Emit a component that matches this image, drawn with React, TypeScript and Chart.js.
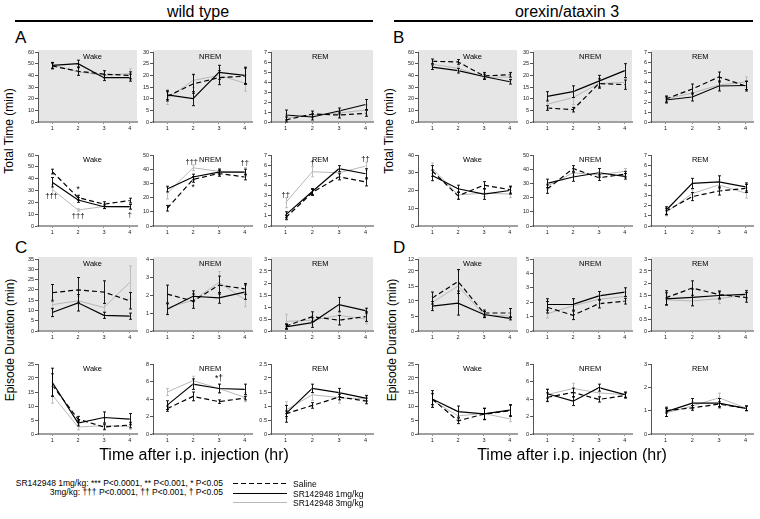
import React, { useEffect, useRef } from 'react';
import { Chart, registerables } from 'chart.js';

Chart.register(...registerables);

const FONT = '"Liberation Sans", Arial, sans-serif';

// ---------------- data ----------------
const HOURS = [1, 2, 3, 4];
const STATES = ['Wake', 'NREM', 'REM'];
const SERIES = ['Saline', 'SR142948 1mg/kg', 'SR142948 3mg/kg'];
const SERIES_COLORS = ['#000000', '#000000', '#b8b8b8'];

// rows of each array: [Saline, SR142948 1mg/kg, SR142948 3mg/kg]
// A: wild type, total time (min)
const A1_WAKE = [[48, 43.5, 41, 40], [48.5, 50, 38, 38], [49, 43, 40, 41.5]];
const A1_WAKE_SEM = [[2.5, 3.5, 3, 3], [2.5, 3, 2.5, 3], [2.5, 3, 3, 4]];
const A1_NREM = [[11, 16.3, 19, 19.6], [11.6, 10, 21.3, 20], [10, 17.8, 20, 16.7]];
const A1_NREM_SEM = [[2, 4, 3, 3.5], [2, 3, 3, 3.5], [2.5, 3, 3, 3.5]];
const A1_REM = [[0.2, 0.8, 0.7, 0.87], [0.7, 0.5, 1.1, 1.75], [0.4, 0.7, 0.9, 1.2]];
const A1_REM_SEM = [[0.3, 0.3, 0.3, 0.3], [0.5, 0.3, 0.3, 0.5], [0.4, 0.3, 0.3, 0.5]];

const A2_WAKE = [[46, 24, 18.5, 21.5], [37, 22, 16.3, 16.3], [31, 13.5, 16.5, 16]];
const A2_WAKE_SEM = [[2, 2, 2, 2], [4, 2, 1.5, 2], [4, 1, 2, 2]];
const A2_NREM = [[12.5, 32.8, 37, 34.5], [26, 34.5, 38, 38], [23, 41, 38.5, 38]];
const A2_NREM_SEM = [[2, 2, 2, 2], [2, 2, 2, 2], [4, 2, 2, 3]];
const A2_REM = [[0.82, 3.3, 4.85, 4.35], [1.1, 3.4, 5.65, 5.15], [2.3, 5.35, 5.25, 5.9]];
const A2_REM_SEM = [[0.2, 0.3, 0.3, 0.4], [0.3, 0.3, 0.3, 0.5], [0.5, 0.5, 0.4, 0.4]];

// B: orexin/ataxin 3, total time (min)
const B1_WAKE = [[52, 51.5, 39.5, 40.5], [47, 44, 39, 34.5], [49.5, 46, 38.5, 38.5]];
const B1_WAKE_SEM = [[2, 2, 3, 2], [2, 2, 2, 2], [2, 2, 2, 3]];
const B1_NREM = [[6, 5.3, 16.5, 16], [11, 13, 17.5, 22], [7.6, 10.5, 16.5, 17]];
const B1_NREM_SEM = [[1, 1, 2, 2], [2, 2.5, 2.5, 3], [2, 3, 2, 2]];
const B1_REM = [[2.3, 3.3, 4.5, 3.6], [2.2, 2.5, 3.6, 3.65], [2.3, 2.9, 3.7, 4.0]];
const B1_REM_SEM = [[0.3, 0.5, 0.5, 0.5], [0.3, 0.4, 0.5, 0.4], [0.3, 0.5, 0.4, 0.5]];

const B2_WAKE = [[31, 17, 23, 20.5], [28.5, 21, 18, 20], [32.5, 17.5, 18.5, 18]];
const B2_WAKE_SEM = [[3, 2, 2, 2], [3, 2, 3, 2], [3, 2, 2, 2]];
const B2_NREM = [[26, 40.5, 34, 36.5], [30, 34.5, 37.5, 35], [28, 37.5, 36, 38.5]];
const B2_NREM_SEM = [[3, 2, 2, 2], [3, 3, 3, 2], [2, 2, 2, 2]];
const B2_REM = [[1.45, 2.9, 3.45, 3.7], [1.5, 4.2, 4.35, 3.85], [1.3, 3.2, 4.05, 3.25]];
const B2_REM_SEM = [[0.3, 0.4, 0.4, 0.4], [0.4, 0.5, 0.6, 0.4], [0.3, 0.4, 0.5, 0.5]];

// C: wild type, episode duration (min)
const C1_WAKE = [[18.6, 20, 18.9, 14.7], [9, 13.7, 7.6, 7.2], [12.8, 14.7, 11.4, 23.6]];
const C1_WAKE_SEM = [[4, 6, 5.5, 4], [2, 4, 1.5, 1.5], [2.5, 2, 2, 8]];
const C1_NREM = [[2.05, 1.66, 2.55, 2.34], [1.21, 1.93, 1.84, 2.16], [1.3, 1.7, 2.7, 1.75]];
const C1_NREM_SEM = [[0.5, 0.4, 0.5, 0.3], [0.3, 0.3, 0.3, 0.4], [0.3, 0.3, 0.6, 0.4]];
const C1_REM = [[0.2, 0.6, 0.45, 0.6], [0.17, 0.35, 1.1, 0.85], [0.4, 0.45, 0.65, 0.5]];
const C1_REM_SEM = [[0.1, 0.2, 0.2, 0.2], [0.1, 0.2, 0.3, 0.1], [0.3, 0.2, 0.2, 0.2]];

const C2_WAKE = [[17.5, 5.3, 2.5, 3.2], [18.5, 3.9, 5.9, 5.3], [14, 2.5, 3, 2.7]];
const C2_WAKE_SEM = [[4, 1, 1, 1], [5, 1, 2, 2], [3, 1, 1, 1]];
const C2_NREM = [[2.9, 4.3, 3.7, 4.1], [3.3, 5.7, 5.2, 5.1], [4.8, 6.1, 5.2, 4.2]];
const C2_NREM_SEM = [[0.3, 0.5, 0.2, 0.2], [0.5, 0.6, 0.5, 0.6], [0.4, 0.5, 0.5, 0.5]];
const C2_REM = [[0.72, 1.02, 1.32, 1.18], [0.72, 1.63, 1.48, 1.28], [0.85, 1.4, 1.3, 1.25]];
const C2_REM_SEM = [[0.1, 0.1, 0.1, 0.1], [0.3, 0.15, 0.15, 0.1], [0.3, 0.2, 0.2, 0.1]];

// D: orexin/ataxin 3, episode duration (min)
const D1_WAKE = [[11, 16.5, 6, 6], [8.3, 9.3, 5.5, 4.2], [9.5, 15, 5.3, 5]];
const D1_WAKE_SEM = [[2, 4, 1, 1.5], [1.5, 4, 1, 0.5], [2, 5, 1, 1]];
const D1_NREM = [[1.65, 1.09, 1.9, 2.07], [1.84, 1.85, 2.44, 2.7], [1.2, 1.75, 2.2, 2.4]];
const D1_NREM_SEM = [[0.4, 0.3, 0.3, 0.2], [0.4, 0.4, 0.3, 0.3], [0.3, 0.4, 0.3, 0.3]];
const D1_REM = [[1.38, 1.79, 1.52, 1.4], [1.34, 1.4, 1.48, 1.53], [1.3, 1.25, 1.35, 1.5]];
const D1_REM_SEM = [[0.3, 0.3, 0.15, 0.2], [0.25, 0.35, 0.15, 0.15], [0.2, 0.2, 0.2, 0.2]];

const D2_WAKE = [[12.5, 4.7, 7.1, 8.3], [12.5, 8, 7.2, 8.5], [12, 6.5, 7.3, 5.4]];
const D2_WAKE_SEM = [[2, 1, 2, 2], [3, 2, 2, 2], [2, 2, 2, 1]];
const D2_NREM = [[4.2, 4.75, 3.95, 4.4], [4.6, 3.75, 5.3, 4.5], [4.5, 5.2, 4.7, 4.5]];
const D2_NREM_SEM = [[0.5, 0.5, 0.3, 0.3], [0.5, 0.5, 0.4, 0.3], [0.7, 0.6, 0.5, 0.3]];
const D2_REM = [[1.0, 1.12, 1.28, 1.1], [0.95, 1.32, 1.32, 1.1], [0.9, 1.2, 1.55, 1.12]];
const D2_REM_SEM = [[0.1, 0.1, 0.1, 0.1], [0.2, 0.2, 0.2, 0.1], [0.15, 0.2, 0.2, 0.1]];

// y tick values
const Y_60 = [0, 10, 20, 30, 40, 50, 60];
const Y_50 = [0, 10, 20, 30, 40, 50];
const Y_40 = [0, 10, 20, 30, 40];
const Y_35 = [0, 5, 10, 15, 20, 25, 30, 35];
const Y_30 = [0, 5, 10, 15, 20, 25, 30];
const Y_25 = [0, 5, 10, 15, 20, 25];
const Y_24 = [0, 5, 10, 15, 20, 24];
const Y_24_TEXT = ['0', '5', '10', '15', '20', '12'];
const Y_8 = [0, 2, 4, 6, 8];
const Y_7 = [0, 1, 2, 3, 4, 5, 6, 7];
const Y_5 = [0, 1, 2, 3, 4, 5];
const Y_4 = [0, 1, 2, 3, 4];
const Y_3 = [0, 1, 2, 3];
const Y_3H = [0, 0.5, 1, 1.5, 2, 2.5, 3];
const Y_25H = [0, 0.5, 1, 1.5, 2, 2.5];

// significance marks
const A2_WAKE_NOTES = [
  { x: 0.97, y: 25, t: '†††' },
  { x: 2, y: 30.5, t: '*' },
  { x: 2, y: 8.5, t: '†††' },
  { x: 4, y: 9, t: '†' },
];
const A2_NREM_NOTES = [
  { x: 1.95, y: 45, t: '†††' },
  { x: 2, y: 27, t: '*' },
  { x: 4, y: 44.5, t: '††' },
];
const A2_REM_NOTES = [
  { x: 1, y: 3.1, t: '††' },
  { x: 2, y: 6.2, t: '†' },
  { x: 4, y: 6.6, t: '††' },
];
const C2_NREM_NOTES = [{ x: 3, y: 6.3, t: '*†' }];

// ---------------- layout ----------------
type Note = { x: number; y: number; t: string };
type PanelSpec = {
  g: number; r: number; c: number;
  mean: number[][]; sem: number[][];
  ticks: number[]; tickText?: string[];
  bg: boolean; notes?: Note[];
};

const PANELS: PanelSpec[] = [
  { g: 0, r: 0, c: 0, mean: A1_WAKE, sem: A1_WAKE_SEM, ticks: Y_60, bg: true },
  { g: 0, r: 0, c: 1, mean: A1_NREM, sem: A1_NREM_SEM, ticks: Y_30, bg: true },
  { g: 0, r: 0, c: 2, mean: A1_REM, sem: A1_REM_SEM, ticks: Y_7, bg: true },
  { g: 0, r: 1, c: 0, mean: A2_WAKE, sem: A2_WAKE_SEM, ticks: Y_60, bg: false, notes: A2_WAKE_NOTES },
  { g: 0, r: 1, c: 1, mean: A2_NREM, sem: A2_NREM_SEM, ticks: Y_50, bg: false, notes: A2_NREM_NOTES },
  { g: 0, r: 1, c: 2, mean: A2_REM, sem: A2_REM_SEM, ticks: Y_7, bg: false, notes: A2_REM_NOTES },
  { g: 1, r: 0, c: 0, mean: B1_WAKE, sem: B1_WAKE_SEM, ticks: Y_60, bg: true },
  { g: 1, r: 0, c: 1, mean: B1_NREM, sem: B1_NREM_SEM, ticks: Y_30, bg: true },
  { g: 1, r: 0, c: 2, mean: B1_REM, sem: B1_REM_SEM, ticks: Y_7, bg: true },
  { g: 1, r: 1, c: 0, mean: B2_WAKE, sem: B2_WAKE_SEM, ticks: Y_40, bg: false },
  { g: 1, r: 1, c: 1, mean: B2_NREM, sem: B2_NREM_SEM, ticks: Y_50, bg: false },
  { g: 1, r: 1, c: 2, mean: B2_REM, sem: B2_REM_SEM, ticks: Y_7, bg: false },
  { g: 0, r: 2, c: 0, mean: C1_WAKE, sem: C1_WAKE_SEM, ticks: Y_35, bg: true },
  { g: 0, r: 2, c: 1, mean: C1_NREM, sem: C1_NREM_SEM, ticks: Y_4, bg: true },
  { g: 0, r: 2, c: 2, mean: C1_REM, sem: C1_REM_SEM, ticks: Y_3H, bg: true },
  { g: 0, r: 3, c: 0, mean: C2_WAKE, sem: C2_WAKE_SEM, ticks: Y_25, bg: false },
  { g: 0, r: 3, c: 1, mean: C2_NREM, sem: C2_NREM_SEM, ticks: Y_8, bg: false, notes: C2_NREM_NOTES },
  { g: 0, r: 3, c: 2, mean: C2_REM, sem: C2_REM_SEM, ticks: Y_25H, bg: false },
  { g: 1, r: 2, c: 0, mean: D1_WAKE, sem: D1_WAKE_SEM, ticks: Y_24, tickText: Y_24_TEXT, bg: true },
  { g: 1, r: 2, c: 1, mean: D1_NREM, sem: D1_NREM_SEM, ticks: Y_5, bg: true },
  { g: 1, r: 2, c: 2, mean: D1_REM, sem: D1_REM_SEM, ticks: Y_3H, bg: true },
  { g: 1, r: 3, c: 0, mean: D2_WAKE, sem: D2_WAKE_SEM, ticks: Y_25, bg: false },
  { g: 1, r: 3, c: 1, mean: D2_NREM, sem: D2_NREM_SEM, ticks: Y_8, bg: false },
  { g: 1, r: 3, c: 2, mean: D2_REM, sem: D2_REM_SEM, ticks: Y_3, bg: false },
];

const COL_X = [[38, 137], [153, 252], [271, 373]];
const TITLE_AT = [2.56, 2.66, 2.3];
const GROUP_DX = [0, 380];
const ROW_Y = [[52, 122], [155, 226], [259, 331], [364, 434]];
const YW = 22, PT = 6, PR = 3, XH = 12;
const TICK_FONT = { size: 5.5, family: FONT };

function makeConfig(p: PanelSpec): any {
  const datasets = p.mean.map((vals, i) => ({
    label: SERIES[i],
    data: HOURS.map((h, j) => ({ x: h, y: vals[j] })),
    borderColor: SERIES_COLORS[i],
    borderWidth: i === 2 ? 1 : 1.2,
    borderDash: i === 0 ? [5, 3] : [],
    pointRadius: 0,
    fill: false,
    tension: 0,
  }));

  const deco = {
    id: 'panelDeco',
    beforeDraw(chart: any) {
      if (!p.bg) return;
      const { ctx, chartArea: a } = chart;
      ctx.save();
      ctx.fillStyle = '#e6e6e6';
      ctx.fillRect(a.left, a.top - 2, a.right - a.left, a.bottom - a.top + 2);
      ctx.restore();
    },
    afterDatasetsDraw(chart: any) {
      const { ctx } = chart;
      const xs = chart.scales.x;
      const ys = chart.scales.y;
      ctx.save();
      for (let i = 2; i >= 0; i--) {
        ctx.strokeStyle = SERIES_COLORS[i];
        ctx.lineWidth = 0.9;
        ctx.setLineDash([]);
        HOURS.forEach((h, j) => {
          const m = p.mean[i][j];
          const s = p.sem[i][j];
          const x = Math.round(xs.getPixelForValue(h)) + 0.5;
          const yt = ys.getPixelForValue(m + s);
          const yb = ys.getPixelForValue(Math.max(0, m - s));
          ctx.beginPath();
          ctx.moveTo(x, yt); ctx.lineTo(x, yb);
          ctx.moveTo(x - 1.5, yt); ctx.lineTo(x + 1.5, yt);
          ctx.moveTo(x - 1.5, yb); ctx.lineTo(x + 1.5, yb);
          ctx.stroke();
        });
      }
      ctx.restore();
    },
    afterDraw(chart: any) {
      const { ctx, chartArea: a } = chart;
      const xs = chart.scales.x;
      const ys = chart.scales.y;
      ctx.save();
      ctx.fillStyle = '#000';
      ctx.textAlign = 'center';
      ctx.textBaseline = 'middle';
      ctx.font = `7.5px ${FONT}`;
      ctx.fillText(STATES[p.c], xs.getPixelForValue(TITLE_AT[p.c]), a.top + 5);
      (p.notes || []).forEach((n) => {
        ctx.font = n.t.includes('*') ? `8.5px ${FONT}` : `7.5px ${FONT}`;
        ctx.fillText(n.t, xs.getPixelForValue(n.x), ys.getPixelForValue(n.y));
      });
      ctx.restore();
    },
  };

  return {
    type: 'line',
    data: { datasets },
    plugins: [deco],
    options: {
      animation: false,
      responsive: false,
      maintainAspectRatio: false,
      events: [],
      layout: { padding: { top: PT, right: PR, left: 0, bottom: 0 } },
      plugins: { legend: { display: false }, tooltip: { enabled: false }, title: { display: false } },
      scales: {
        x: {
          type: 'linear',
          min: 0.45,
          max: 4.28,
          afterBuildTicks: (s: any) => { s.ticks = HOURS.map((v) => ({ value: v })); },
          afterFit: (s: any) => { s.height = XH; },
          grid: { display: true, drawOnChartArea: false, drawTicks: true, tickLength: 2, color: '#888' },
          border: { display: true, color: '#a0a0a0', width: 2 },
          ticks: { font: TICK_FONT, color: '#222', padding: 1, maxRotation: 0, autoSkip: false, callback: (v: any) => String(v) },
        },
        y: {
          type: 'linear',
          min: 0,
          max: p.ticks[p.ticks.length - 1],
          afterBuildTicks: (s: any) => { s.ticks = p.ticks.map((v) => ({ value: v })); },
          afterFit: (s: any) => { s.width = YW; },
          grid: { display: true, drawOnChartArea: false, drawTicks: true, tickLength: 3, color: '#555' },
          border: { display: true, color: '#555', width: 1 },
          ticks: {
            font: TICK_FONT, color: '#222', padding: 1, autoSkip: false,
            callback: (v: any, i: number) => (p.tickText ? p.tickText[i] : String(v)),
          },
        },
      },
    },
  };
}

function Panel({ p }: { p: PanelSpec }) {
  const ref = useRef<HTMLCanvasElement | null>(null);
  const [cl, cr] = COL_X[p.c];
  const [rt, rb] = ROW_Y[p.r];
  const left = cl + GROUP_DX[p.g] - YW;
  const top = rt - PT;
  const w = YW + (cr - cl) + PR;
  const h = PT + (rb - rt) + XH;
  useEffect(() => {
    const chart = new Chart(ref.current as HTMLCanvasElement, makeConfig(p));
    return () => chart.destroy();
  }, []);
  return (
    <canvas
      ref={ref}
      width={w}
      height={h}
      style={{ position: 'absolute', left, top, width: w, height: h }}
    />
  );
}

function Txt({ x, y, size, children, align }: any) {
  const tx = align === 'right' ? '-100%' : align === 'left' ? '0' : '-50%';
  return (
    <div
      style={{
        position: 'absolute', left: x, top: y, fontFamily: FONT, fontSize: size,
        lineHeight: 1, whiteSpace: 'nowrap', color: '#000',
        transform: `translate(${tx}, -50%)`,
      }}
    >
      {children}
    </div>
  );
}

function RotTxt({ x, y, size, children }: any) {
  return (
    <div
      style={{
        position: 'absolute', left: x, top: y, fontFamily: FONT, fontSize: size,
        lineHeight: 1, whiteSpace: 'nowrap', color: '#000',
        transform: 'translate(-50%, -50%) rotate(-90deg)',
      }}
    >
      {children}
    </div>
  );
}

function HLine({ x, y, w, h, bg }: any) {
  return <div style={{ position: 'absolute', left: x, top: y, width: w, height: h, background: bg }} />;
}

export default function App() {
  return (
    <div style={{ position: 'absolute', left: 0, top: 0, width: 760, height: 519, overflow: 'hidden', background: '#fff' }}>
      <Txt x={198} y={12} size={16}>wild type</Txt>
      <HLine x={15} y={20} w={358} h={2} bg="#000" />
      <Txt x={567} y={12} size={16}>orexin/ataxin 3</Txt>
      <HLine x={394} y={20} w={359} h={2} bg="#000" />

      <Txt x={15} y={37} size={17} align="left">A</Txt>
      <Txt x={393} y={37} size={17} align="left">B</Txt>
      <Txt x={15} y={247} size={17} align="left">C</Txt>
      <Txt x={393} y={247} size={17} align="left">D</Txt>

      <RotTxt x={9} y={131} size={12}>Total Time (min)</RotTxt>
      <RotTxt x={389} y={131} size={12}>Total Time (min)</RotTxt>
      <RotTxt x={10} y={340} size={12}>Episode Duration (min)</RotTxt>
      <RotTxt x={392} y={340} size={12}>Episode Duration (min)</RotTxt>

      {PANELS.map((p, i) => <Panel key={i} p={p} />)}

      <Txt x={194} y={455} size={16}>Time after i.p. injection (hr)</Txt>
      <Txt x={572} y={455} size={16}>Time after i.p. injection (hr)</Txt>

      <Txt x={223} y={483} size={8.5} align="right">SR142948 1mg/kg: *** P&lt;0.0001, ** P&lt;0.001, * P&lt;0.05</Txt>
      <Txt x={223} y={492} size={8.5} align="right">3mg/kg: ††† P&lt;0.0001, †† P&lt;0.001, † P&lt;0.05</Txt>

      <HLine x={233} y={483} w={54} h={1} bg="repeating-linear-gradient(90deg, #000 0 5px, transparent 5px 8px)" />
      <Txt x={293} y={484} size={8.5} align="left">{SERIES[0]}</Txt>
      <HLine x={233} y={493} w={54} h={1.3} bg="#000" />
      <Txt x={293} y={494} size={8.5} align="left">{SERIES[1]}</Txt>
      <HLine x={233} y={502} w={54} h={1} bg="#b8b8b8" />
      <Txt x={293} y={503} size={8.5} align="left">{SERIES[2]}</Txt>
    </div>
  );
}
